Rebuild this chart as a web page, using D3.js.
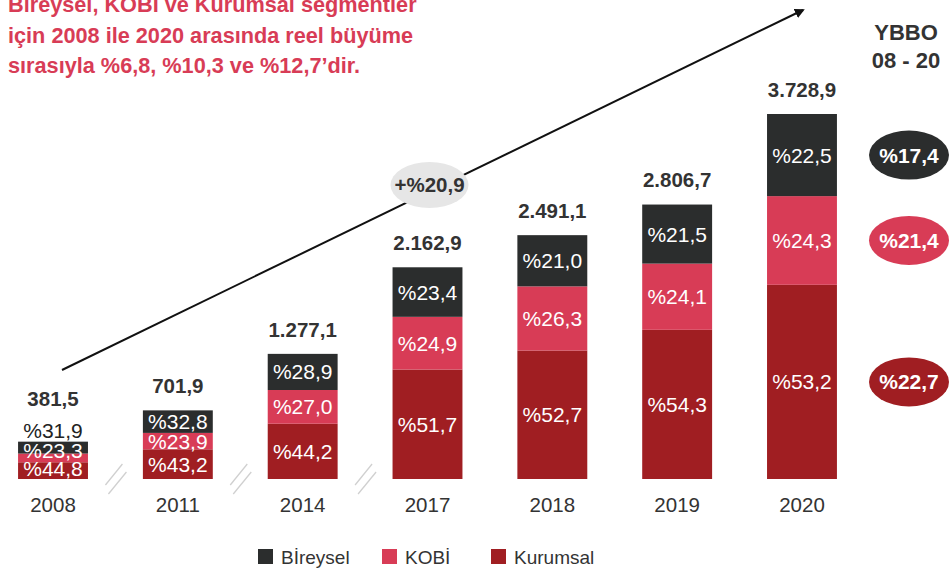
<!DOCTYPE html>
<html>
  <head>
    <script src="https://d3js.org/d3.v7.min.js" charset="utf-8"></script>
    <meta charset="UTF-8">
    <title>segment buyume</title>
    <style>
      body { margin: 0; background: #fff; }
      text { font-family: "Liberation Sans", Arial, Helvetica, sans-serif; }
    </style>
  </head>
  <body>
    <svg class="chart"></svg>
    <script type="text/javascript">

     var width = 949,
         height = 572;

     var years = ["2008", "2011", "2014", "2017", "2018", "2019", "2020"];
     var totals = [381.5, 701.9, 1277.1, 2162.9, 2491.1, 2806.7, 3728.9];
     var totalLabels = ["381,5", "701,9", "1.277,1", "2.162,9", "2.491,1", "2.806,7", "3.728,9"];
     var bireysel = [31.9, 32.8, 28.9, 23.4, 21.0, 21.5, 22.5];
     var kobi = [23.3, 23.9, 27.0, 24.9, 26.3, 24.1, 24.3];
     var kurumsal = [44.8, 43.2, 44.2, 51.7, 52.7, 54.3, 53.2];
     var segments = ["Kurumsal", "KOBİ", "Bireysel"];
     var legendNames = ["Bireysel", "KOBİ", "Kurumsal"];
     var legendLabels = ["Bİreysel", "KOBİ", "Kurumsal"];
     var cagr = ["%17,4", "%21,4", "%22,7"];
     var growthLabel = "+%20,9";
     var titleLines = ["Bireysel, KOBİ ve Kurumsal segmentler",
                       "için 2008 ile 2020 arasında reel büyüme",
                       "sırasıyla %6,8, %10,3 ve %12,7’dir."];

     var colors = {"Bireysel": "#2b2d2d", "KOBİ": "#d83c56", "Kurumsal": "#a01e22"};

     var chart = d3.select(".chart")
                   .attr("width", width)
                   .attr("height", height);

     var x = d3.scaleBand()
               .domain(years)
               .range([-9.4, 864.4])
               .paddingInner(0.44)
               .paddingOuter(0.22);

     var y = d3.scaleLinear()
               .domain([0, 3728.9])
               .range([479, 114]);

     function fmt(v) { return "%" + v.toFixed(1).replace(".", ","); }

     // stacked rows
     var rows = years.map(function(yr, i) {
         return {"year": yr, "total": totals[i], "Bireysel": bireysel[i],
                 "KOBİ": kobi[i], "Kurumsal": kurumsal[i]};
     });
     var stack = d3.stack().keys(segments);
     var series = stack(rows.map(function(r) {
         return {"year": r.year, "Kurumsal": r.total * r.Kurumsal / 100,
                 "KOBİ": r.total * r["KOBİ"] / 100, "Bireysel": r.total * r.Bireysel / 100};
     }));

     // title
     chart.append("g").selectAll("text")
          .data(titleLines)
          .enter().append("text")
          .attr("x", 8)
          .attr("y", function(d, i) { return 12 + i * 30.5; })
          .attr("fill", "#d83c56")
          .attr("font-size", 21.7)
          .attr("font-weight", "bold")
          .text(function(d) { return d; });

     // arrow
     chart.append("defs").append("marker")
          .attr("id", "arrow")
          .attr("viewBox", "0 0 10 10")
          .attr("refX", 8).attr("refY", 5)
          .attr("markerWidth", 10).attr("markerHeight", 10)
          .attr("markerUnits", "userSpaceOnUse")
          .attr("orient", "auto")
          .append("path")
          .attr("d", "M0,0 L10,5 L0,10 z")
          .attr("fill", "#111");

     var arrowStart = [x("2008") + x.bandwidth() / 2 + 9, 370],
         arrowEnd = [x("2020") + x.bandwidth() / 2 + 1, 10];
     chart.append("line")
          .attr("x1", arrowStart[0]).attr("y1", arrowStart[1])
          .attr("x2", arrowEnd[0]).attr("y2", arrowEnd[1])
          .attr("stroke", "#111")
          .attr("stroke-width", 2)
          .attr("marker-end", "url(#arrow)");

     var gx = x("2017") + x.bandwidth() / 2;
     chart.append("ellipse")
          .attr("cx", gx + 2).attr("cy", 185)
          .attr("rx", 39).attr("ry", 23)
          .attr("fill", "#e6e6e6");
     chart.append("text")
          .attr("x", gx + 2).attr("y", 192)
          .attr("text-anchor", "middle")
          .attr("font-size", 20.5).attr("font-weight", "bold")
          .attr("fill", "#333")
          .text(growthLabel);

     // bars
     var barG = chart.append("g").attr("class", "bars");
     barG.selectAll("g")
         .data(series)
         .enter().append("g")
         .attr("fill", function(d) { return colors[d.key]; })
         .selectAll("rect")
         .data(function(d) { return d; })
         .enter().append("rect")
         .attr("x", function(d) { return x(d.data.year); })
         .attr("width", x.bandwidth())
         .attr("y", function(d) { return y(d[1]); })
         .attr("height", function(d) { return y(d[0]) - y(d[1]); });

     // segment labels
     var pctByKey = {"Bireysel": bireysel, "KOBİ": kobi, "Kurumsal": kurumsal};
     series.forEach(function(s) {
         barG.append("g").selectAll("text")
             .data(s)
             .enter().append("text")
             .attr("x", function(d) { return x(d.data.year) + x.bandwidth() / 2; })
             .attr("y", function(d, i) {
                 var mid = (y(d[0]) + y(d[1])) / 2;
                 if (i === 0) {
                     if (s.key === "Bireysel") return y(d[1]) - 4;
                     if (s.key === "KOBİ") return mid + 0.5;
                     return mid + 5.5;
                 }
                 return mid + 7.5;
             })
             .attr("text-anchor", "middle")
             .attr("font-size", 21)
             .attr("fill", function(d, i) { return (i === 0 && s.key === "Bireysel") ? "#222" : "#fff"; })
             .text(function(d, i) { return fmt(pctByKey[s.key][i]); });
     });

     // totals
     chart.append("g").selectAll("text")
          .data(rows)
          .enter().append("text")
          .attr("x", function(d) { return x(d.year) + x.bandwidth() / 2; })
          .attr("y", function(d, i) { return i === 0 ? y(d.total) - 36 : y(d.total) - 17; })
          .attr("text-anchor", "middle")
          .attr("font-size", 20.5).attr("font-weight", "bold")
          .attr("fill", "#333")
          .text(function(d, i) { return totalLabels[i]; });

     // year labels
     chart.append("g").selectAll("text")
          .data(years)
          .enter().append("text")
          .attr("x", function(d) { return x(d) + x.bandwidth() / 2; })
          .attr("y", 512)
          .attr("text-anchor", "middle")
          .attr("font-size", 20.5)
          .attr("fill", "#333")
          .text(function(d) { return d; });

     // axis break marks
     var breaks = years.slice(0, 3).map(function(d) { return x(d) + x.bandwidth() + (x.step() - x.bandwidth()) / 2; });
     var brG = chart.append("g").attr("stroke", "#d0d0d0").attr("stroke-width", 1.3);
     breaks.forEach(function(bx) {
         brG.append("line").attr("x1", bx - 10).attr("y1", 485).attr("x2", bx + 7).attr("y2", 464);
         brG.append("line").attr("x1", bx - 7).attr("y1", 494).attr("x2", bx + 11).attr("y2", 472);
     });

     // YBBO column
     var rx = 906;
     chart.append("text").attr("x", rx).attr("y", 40)
          .attr("text-anchor", "middle").attr("font-size", 22).attr("font-weight", "bold")
          .attr("fill", "#333").text("YBBO");
     chart.append("text").attr("x", rx).attr("y", 68)
          .attr("text-anchor", "middle").attr("font-size", 22).attr("font-weight", "bold")
          .attr("fill", "#333").text("08 - 20");

     var last = series.map(function(s) { return s[s.length - 1]; });
     var ellData = legendNames.map(function(name, i) {
         var seg = last[segments.indexOf(name)];
         return {"name": name, "label": cagr[i], "cy": (y(seg[0]) + y(seg[1])) / 2};
     });
     var ell = chart.append("g").selectAll("g")
                    .data(ellData)
                    .enter().append("g");
     ell.append("ellipse")
        .attr("cx", rx + 3).attr("cy", function(d) { return d.cy; })
        .attr("rx", 40).attr("ry", 24.5)
        .attr("fill", function(d) { return colors[d.name]; });
     ell.append("text")
        .attr("x", rx + 3).attr("y", function(d) { return d.cy + 7.5; })
        .attr("text-anchor", "middle").attr("font-size", 21).attr("font-weight", "bold")
        .attr("fill", "#fff")
        .text(function(d) { return d.label; });

     // legend
     var legX = [258, 382, 491];
     var leg = chart.append("g").selectAll("g")
                    .data(legendNames)
                    .enter().append("g")
                    .attr("transform", function(d, i) { return "translate(" + legX[i] + ",549)"; });
     leg.append("rect").attr("width", 15).attr("height", 15)
        .attr("fill", function(d) { return colors[d]; });
     leg.append("text").attr("x", 23).attr("y", 15)
        .attr("font-size", 19).attr("fill", "#333")
        .text(function(d, i) { return legendLabels[i]; });

    </script>
  </body>
</html>
